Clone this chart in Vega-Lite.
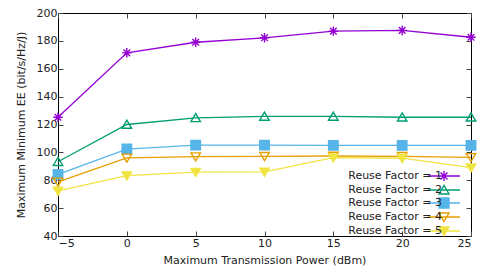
{
  "$schema": "https://vega.github.io/schema/vega-lite/v6.json",
  "width": 413,
  "height": 223,
  "autosize": "none",
  "padding": {"left": 58, "top": 13, "right": 20, "bottom": 37},
  "config": {
    "font": "DejaVu Sans",
    "view": {"stroke": "#000", "strokeWidth": 1},
    "axis": {"domain": false, "grid": false, "tickSize": -5, "tickColor": "#444", "labelFontSize": 11, "labelColor": "#222", "titleFontSize": 11, "titleFontWeight": "normal", "titleColor": "#222"}
  },
  "data": {"values": [
    {"p": -5, "ee": 125.2, "s": "Reuse Factor = 1"},
    {"p": 0, "ee": 171.4, "s": "Reuse Factor = 1"},
    {"p": 5, "ee": 179.0, "s": "Reuse Factor = 1"},
    {"p": 10, "ee": 182.2, "s": "Reuse Factor = 1"},
    {"p": 15, "ee": 187.0, "s": "Reuse Factor = 1"},
    {"p": 20, "ee": 187.5, "s": "Reuse Factor = 1"},
    {"p": 25, "ee": 182.6, "s": "Reuse Factor = 1"},
    {"p": -5, "ee": 93.3, "s": "Reuse Factor = 2"},
    {"p": 0, "ee": 120.0, "s": "Reuse Factor = 2"},
    {"p": 5, "ee": 124.8, "s": "Reuse Factor = 2"},
    {"p": 10, "ee": 125.8, "s": "Reuse Factor = 2"},
    {"p": 15, "ee": 125.8, "s": "Reuse Factor = 2"},
    {"p": 20, "ee": 125.2, "s": "Reuse Factor = 2"},
    {"p": 25, "ee": 125.2, "s": "Reuse Factor = 2"},
    {"p": -5, "ee": 84.2, "s": "Reuse Factor = 3"},
    {"p": 0, "ee": 102.4, "s": "Reuse Factor = 3"},
    {"p": 5, "ee": 105.2, "s": "Reuse Factor = 3"},
    {"p": 10, "ee": 105.2, "s": "Reuse Factor = 3"},
    {"p": 15, "ee": 105.0, "s": "Reuse Factor = 3"},
    {"p": 20, "ee": 105.0, "s": "Reuse Factor = 3"},
    {"p": 25, "ee": 105.0, "s": "Reuse Factor = 3"},
    {"p": -5, "ee": 78.8, "s": "Reuse Factor = 4"},
    {"p": 0, "ee": 96.0, "s": "Reuse Factor = 4"},
    {"p": 5, "ee": 96.9, "s": "Reuse Factor = 4"},
    {"p": 10, "ee": 97.2, "s": "Reuse Factor = 4"},
    {"p": 15, "ee": 97.4, "s": "Reuse Factor = 4"},
    {"p": 20, "ee": 97.2, "s": "Reuse Factor = 4"},
    {"p": 25, "ee": 96.4, "s": "Reuse Factor = 4"},
    {"p": -5, "ee": 72.3, "s": "Reuse Factor = 5"},
    {"p": 0, "ee": 83.3, "s": "Reuse Factor = 5"},
    {"p": 5, "ee": 85.8, "s": "Reuse Factor = 5"},
    {"p": 10, "ee": 86.0, "s": "Reuse Factor = 5"},
    {"p": 15, "ee": 96.2, "s": "Reuse Factor = 5"},
    {"p": 20, "ee": 95.8, "s": "Reuse Factor = 5"},
    {"p": 25, "ee": 89.0, "s": "Reuse Factor = 5"}
  ]},
  "layer": [
    {
      "encoding": {
        "x": {"field": "p", "type": "quantitative", "scale": {"domain": [-5, 25], "nice": false, "zero": false},
          "axis": {"orient": "bottom", "values": [-5, 0, 5, 10, 15, 20, 25], "title": "Maximum Transmission Power (dBm)", "titlePadding": 6, "labelPadding": 6}},
        "y": {"field": "ee", "type": "quantitative", "scale": {"domain": [40, 200], "nice": false, "zero": false},
          "axis": {"orient": "left", "values": [40, 60, 80, 100, 120, 140, 160, 180, 200], "title": "Maximum Minimum EE (bit/s/Hz/J)", "titlePadding": 10, "labelPadding": 6}}
      },
      "layer": [
        {
          "mark": {"type": "line", "strokeWidth": 1.3},
          "encoding": {
            "stroke": {"field": "s", "type": "nominal", "title": null, "scale": {"range": ["#9400d3", "#009e73", "#56b4e9", "#e69f00", "#f0e442"]},
              "legend": {"orient": "none", "legendX": 357, "legendY": 157, "labelAlign": "right", "labelOffset": -8, "symbolOffset": 23, "labelFontSize": 11, "labelColor": "#222", "rowPadding": -4, "symbolSize": 40,
                "encode": {"symbols": {"update": {
                  "stroke": {"scale": "stroke", "field": "value"},
                  "fill": {"scale": "fill", "field": "value"},
                  "strokeWidth": {"value": 1.4},
                  "opacity": {"value": 1},
                  "size": {"value": 100},
                  "shape": {"signal": "datum.value == 'Reuse Factor = 1' ? 'M-3.2,0L3.2,0M0,-1L0,1M-0.7,-0.7L0.7,0.7M-0.7,0.7L0.7,-0.7' : datum.value == 'Reuse Factor = 2' ? 'M-3.2,0L3.2,0M-1,0.8L0,-0.9L1,0.8Z' : datum.value == 'Reuse Factor = 3' ? 'M-3.2,0L3.2,0M-1,-1L1,-1L1,1L-1,1Z' : 'M-3.2,0L3.2,0M-1,-0.8L0,0.9L1,-0.8Z'"}
                }}}}}
          }
        },
        {
          "mark": {"type": "point", "size": 90, "strokeWidth": 1.4, "opacity": 1},
          "encoding": {
            "stroke": {"field": "s", "type": "nominal", "title": null},
            "fill": {"field": "s", "type": "nominal", "title": null, "legend": null, "scale": {"range": ["transparent", "transparent", "#56b4e9", "transparent", "#f0e442"]}},
            "shape": {"field": "s", "type": "nominal", "title": null, "legend": null, "scale": {"range": ["M-1,0L1,0M0,-1L0,1M-0.7,-0.7L0.7,0.7M-0.7,0.7L0.7,-0.7", "M-1,0.8L0,-0.9L1,0.8Z", "square", "M-1,-0.8L0,0.9L1,-0.8Z", "M-1,-0.8L0,0.9L1,-0.8Z"]}}
          }
        }
      ]
    },
    {
      "mark": {"type": "point", "opacity": 0},
      "encoding": {
        "x": {"field": "p", "type": "quantitative", "axis": {"orient": "top", "values": [-5, 0, 5, 10, 15, 20, 25], "labels": false, "title": null}},
        "y": {"field": "ee", "type": "quantitative", "axis": {"orient": "right", "values": [40, 60, 80, 100, 120, 140, 160, 180, 200], "labels": false, "title": null}}
      }
    }
  ],
  "resolve": {"axis": {"x": "independent", "y": "independent"}}
}
